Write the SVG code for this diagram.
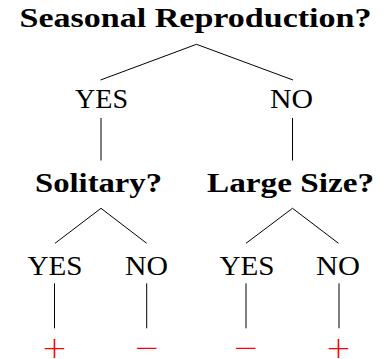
<svg xmlns="http://www.w3.org/2000/svg" width="389" height="359" viewBox="0 0 389 359">
<style>
text{font-family:"Liberation Serif","Times New Roman",serif;fill:#000;text-anchor:middle}
.q{font-weight:bold;font-size:27px}
.a{font-size:27px}
.s{font-family:"DejaVu Sans",sans-serif;font-weight:200;font-size:31px;fill:#ff0000}
.c line{stroke:#000;stroke-width:1}
</style>
<rect width="389" height="359" fill="#fff"/>
<g class="c" id="connectors">
<line x1="196.5" y1="44.3" x2="100.5" y2="80"/>
<line x1="196.5" y1="44.3" x2="293" y2="80"/>
<line x1="101" y1="118" x2="101" y2="160.5"/>
<line x1="292.5" y1="118" x2="292.5" y2="160.5"/>
<line x1="101" y1="208.3" x2="55" y2="243.3"/>
<line x1="101" y1="208.3" x2="146.7" y2="243.3"/>
<line x1="292.5" y1="208.3" x2="246" y2="243.3"/>
<line x1="292.5" y1="208.3" x2="338.5" y2="243.3"/>
<line x1="54.5" y1="283.3" x2="54.5" y2="328.3"/>
<line x1="146.7" y1="283.3" x2="146.7" y2="328.3"/>
<line x1="246" y1="283.3" x2="246" y2="328.3"/>
<line x1="339" y1="283.3" x2="339" y2="328.3"/>
</g>
<g id="root"><text class="q" x="195.5" y="27" textLength="352" lengthAdjust="spacingAndGlyphs">Seasonal Reproduction?</text></g>
<g id="yes1"><text class="a" x="101.5" y="108.3" textLength="53" lengthAdjust="spacingAndGlyphs">YES</text></g>
<g id="no1"><text class="a" x="291.5" y="108.3" textLength="43" lengthAdjust="spacingAndGlyphs">NO</text></g>
<g id="solitary"><text class="q" x="98.5" y="192.3" textLength="127" lengthAdjust="spacingAndGlyphs">Solitary?</text></g>
<g id="large"><text class="q" x="290.5" y="192.3" textLength="167" lengthAdjust="spacingAndGlyphs">Large Size?</text></g>
<g id="yes2"><text class="a" x="55" y="274.5" textLength="55" lengthAdjust="spacingAndGlyphs">YES</text></g>
<g id="no2"><text class="a" x="146.5" y="274.5" textLength="43" lengthAdjust="spacingAndGlyphs">NO</text></g>
<g id="yes3"><text class="a" x="247" y="274.5" textLength="55" lengthAdjust="spacingAndGlyphs">YES</text></g>
<g id="no3"><text class="a" x="338" y="274.5" textLength="44" lengthAdjust="spacingAndGlyphs">NO</text></g>
<g id="r1"><text class="s" x="54.5" y="357.5">+</text></g>
<g id="r2"><text class="s" x="147" y="357.5">−</text></g>
<g id="r3"><text class="s" x="246" y="357.5">−</text></g>
<g id="r4"><text class="s" x="338.5" y="357.5">+</text></g>
</svg>
